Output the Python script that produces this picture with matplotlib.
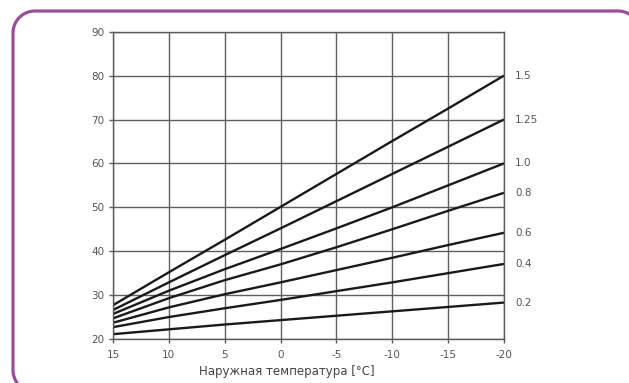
import numpy as np
import matplotlib
matplotlib.use("Agg")
import matplotlib.pyplot as plt
from matplotlib.lines import Line2D
from matplotlib.transforms import IdentityTransform

plt.rcParams["axes.unicode_minus"] = False

# outdoor temperature points
outdoor = [15, 10, 5, 0, -5, -10, -15, -20]

# supply temperature for each curve slope
curve_names = ["1.5", "1.25", "1.0", "0.8", "0.6", "0.4", "0.2"]
curve_15 = [27.7, 35.2, 42.6, 50.1, 57.6, 65.1, 72.5, 80.0]
curve_125 = [26.6, 32.9, 39.1, 45.2, 51.4, 57.6, 63.8, 70.0]
curve_10 = [25.7, 31.0, 35.9, 40.5, 45.2, 50.0, 55.0, 60.0]
curve_08 = [24.7, 29.3, 33.4, 37.0, 40.9, 45.0, 49.2, 53.3]
curve_06 = [23.7, 27.2, 30.2, 32.9, 35.7, 38.5, 41.4, 44.2]
curve_04 = [22.7, 25.0, 27.0, 28.9, 30.9, 32.9, 35.0, 37.1]
curve_02 = [21.1, 22.2, 23.3, 24.3, 25.3, 26.3, 27.3, 28.3]
curves = [curve_15, curve_125, curve_10, curve_08, curve_06, curve_04, curve_02]

xticks = [15, 10, 5, 0, -5, -10, -15, -20]
yticks = [20, 30, 40, 50, 60, 70, 80, 90]

W, H = 629, 383
fig = plt.figure(figsize=(W / 100, H / 100), dpi=100)
fig.patch.set_facecolor("white")

# purple rounded frame (pixel coords), cut by the image edge on the right and bottom
r = 22
left, top, right, bottom = 13, H - 11, 640, -9
def arc(cx, cy, a0, a1):
    t = np.radians(np.linspace(a0, a1, 30))
    return list(cx + r * np.cos(t)), list(cy + r * np.sin(t))
xs, ys = [], []
for seg in [arc(left + r, bottom + r, 218, 180),
            arc(left + r, top - r, 180, 90),
            arc(right - r, top - r, 90, 58)]:
    xs += seg[0]
    ys += seg[1]
fig.add_artist(Line2D(xs, ys, transform=IdentityTransform(),
                      color="#9b4d9d", linewidth=2.3, solid_capstyle="butt"))

ax = fig.add_axes([113 / W, 1 - 339 / H, (504 - 113) / W, (339 - 31.7) / H])
ax.set_xlim(15, -20)
ax.set_ylim(20, 90)
ax.set_xticks(xticks)
ax.set_yticks(yticks)
ax.grid(True, color="#5f5f5f", linewidth=1.0)
ax.set_axisbelow(True)
for s in ax.spines.values():
    s.set_color("#5a5a5a")
    s.set_linewidth(1.0)
ax.tick_params(colors="#5a5a5a", labelcolor="#555555", labelsize=7.5,
               length=3, width=1.0, pad=3)
ax.tick_params(axis="x", pad=5)

for name, vals in zip(curve_names, curves):
    ax.plot(outdoor, vals, color="#1a1a1a", linewidth=1.7, solid_capstyle="butt")
    ax.annotate(name, xy=(outdoor[-1], vals[-1]), xytext=(8, 0),
                textcoords="offset points", va="center", ha="left",
                fontsize=7.5, color="#555555", annotation_clip=False)

ax.set_xlabel("Наружная температура [°C]", fontsize=8.5, color="#444444")
ax.xaxis.set_label_coords(0.445, -0.107)
ax.xaxis.label.set_va("center")

fig.savefig("out.png", dpi=100, facecolor="white")
